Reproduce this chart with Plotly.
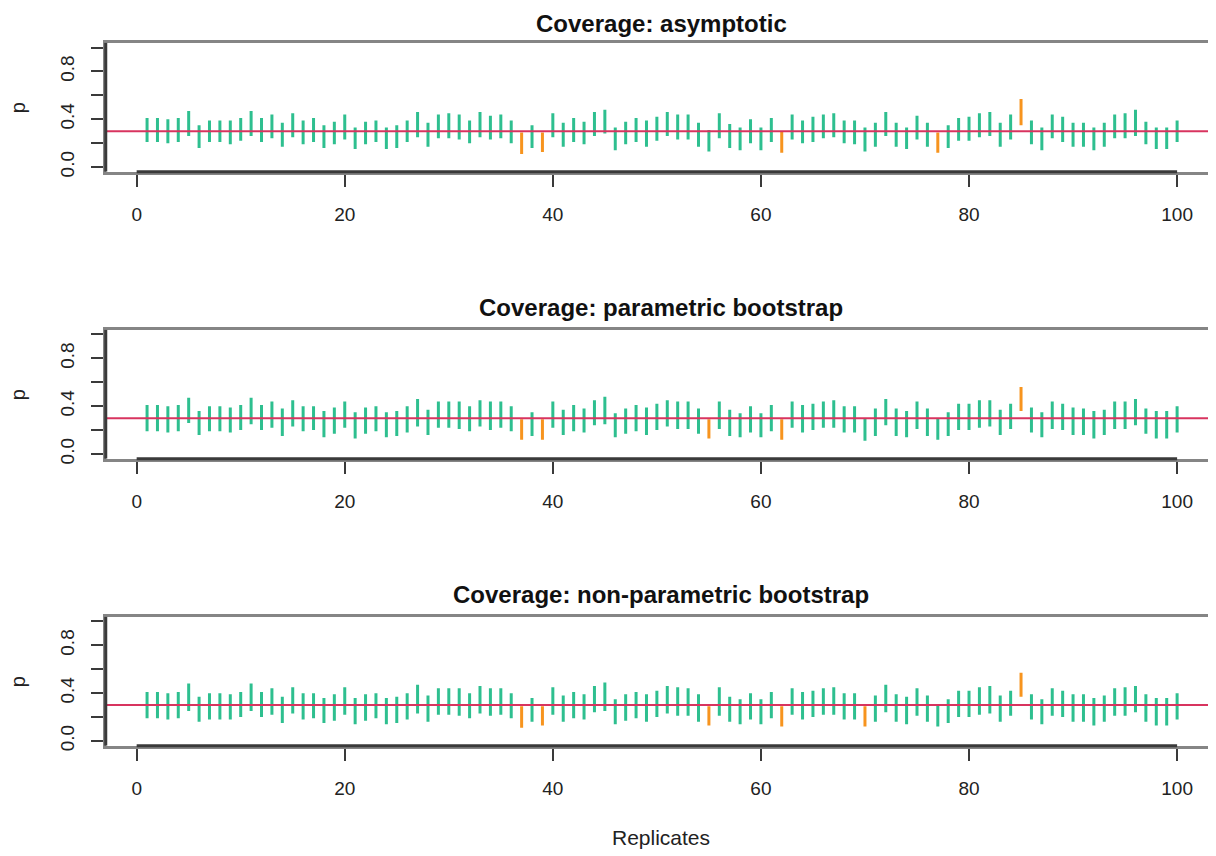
import plotly.graph_objects as go

replicates = list(range(1, 101))
true_p = 0.3

upper_asym = [0.41, 0.41, 0.40, 0.41, 0.47, 0.35, 0.39, 0.39, 0.39, 0.41,
              0.47, 0.41, 0.44, 0.37, 0.45, 0.39, 0.41, 0.35, 0.38, 0.44,
              0.33, 0.38, 0.39, 0.33, 0.35, 0.39, 0.46, 0.37, 0.44, 0.45,
              0.44, 0.39, 0.46, 0.43, 0.44, 0.39, 0.29, 0.35, 0.29, 0.45,
              0.37, 0.41, 0.38, 0.46, 0.48, 0.33, 0.38, 0.41, 0.39, 0.42,
              0.46, 0.44, 0.44, 0.37, 0.31, 0.45, 0.36, 0.33, 0.40, 0.33,
              0.41, 0.295, 0.44, 0.39, 0.42, 0.44, 0.45, 0.39, 0.39, 0.33,
              0.37, 0.46, 0.37, 0.33, 0.43, 0.37, 0.29, 0.35, 0.41, 0.42,
              0.45, 0.46, 0.37, 0.44, 0.57, 0.39, 0.33, 0.44, 0.42, 0.37,
              0.37, 0.33, 0.37, 0.44, 0.45, 0.48, 0.38, 0.33, 0.33, 0.39]
lower_asym = [0.21, 0.21, 0.20, 0.21, 0.26, 0.16, 0.21, 0.21, 0.19, 0.22,
              0.26, 0.21, 0.24, 0.17, 0.25, 0.19, 0.21, 0.16, 0.19, 0.23,
              0.15, 0.19, 0.21, 0.15, 0.16, 0.21, 0.25, 0.17, 0.24, 0.24,
              0.23, 0.20, 0.25, 0.23, 0.24, 0.20, 0.11, 0.16, 0.125, 0.25,
              0.17, 0.21, 0.19, 0.26, 0.28, 0.14, 0.19, 0.21, 0.17, 0.22,
              0.26, 0.23, 0.23, 0.17, 0.13, 0.24, 0.16, 0.14, 0.20, 0.14,
              0.21, 0.12, 0.23, 0.20, 0.21, 0.24, 0.25, 0.20, 0.19, 0.13,
              0.17, 0.26, 0.17, 0.15, 0.23, 0.17, 0.12, 0.16, 0.22, 0.22,
              0.25, 0.26, 0.17, 0.23, 0.35, 0.19, 0.14, 0.24, 0.21, 0.17,
              0.17, 0.14, 0.17, 0.24, 0.24, 0.26, 0.19, 0.15, 0.15, 0.21]

upper_param = [0.41, 0.41, 0.40, 0.41, 0.47, 0.36, 0.40, 0.40, 0.39, 0.41,
               0.47, 0.41, 0.44, 0.38, 0.45, 0.40, 0.40, 0.36, 0.39, 0.44,
               0.35, 0.39, 0.40, 0.35, 0.36, 0.40, 0.46, 0.37, 0.44, 0.44,
               0.44, 0.40, 0.45, 0.44, 0.44, 0.40, 0.29, 0.35, 0.29, 0.44,
               0.37, 0.41, 0.38, 0.45, 0.48, 0.34, 0.38, 0.41, 0.39, 0.42,
               0.45, 0.44, 0.44, 0.38, 0.29, 0.44, 0.37, 0.34, 0.40, 0.34,
               0.41, 0.29, 0.44, 0.41, 0.42, 0.44, 0.45, 0.40, 0.40, 0.30,
               0.38, 0.46, 0.38, 0.36, 0.44, 0.38, 0.30, 0.35, 0.42, 0.42,
               0.45, 0.45, 0.37, 0.42, 0.56, 0.39, 0.35, 0.44, 0.42, 0.39,
               0.38, 0.36, 0.37, 0.44, 0.44, 0.46, 0.38, 0.36, 0.36, 0.40]
lower_param = [0.19, 0.19, 0.18, 0.19, 0.26, 0.16, 0.19, 0.19, 0.18, 0.20,
               0.25, 0.20, 0.22, 0.15, 0.23, 0.19, 0.20, 0.14, 0.17, 0.22,
               0.13, 0.17, 0.19, 0.14, 0.15, 0.18, 0.23, 0.16, 0.22, 0.22,
               0.21, 0.19, 0.23, 0.20, 0.22, 0.19, 0.12, 0.15, 0.12, 0.22,
               0.16, 0.19, 0.18, 0.24, 0.25, 0.14, 0.17, 0.19, 0.16, 0.20,
               0.23, 0.21, 0.21, 0.17, 0.13, 0.21, 0.15, 0.14, 0.18, 0.14,
               0.19, 0.12, 0.22, 0.18, 0.20, 0.22, 0.22, 0.18, 0.18, 0.11,
               0.15, 0.24, 0.15, 0.14, 0.21, 0.15, 0.12, 0.15, 0.20, 0.20,
               0.22, 0.23, 0.16, 0.21, 0.36, 0.18, 0.14, 0.21, 0.20, 0.16,
               0.16, 0.13, 0.16, 0.21, 0.21, 0.24, 0.17, 0.13, 0.13, 0.18]

upper_nonparam = [0.41, 0.41, 0.40, 0.41, 0.48, 0.37, 0.40, 0.40, 0.39, 0.41,
                  0.48, 0.41, 0.44, 0.37, 0.45, 0.40, 0.40, 0.36, 0.39, 0.45,
                  0.36, 0.39, 0.40, 0.36, 0.37, 0.40, 0.47, 0.38, 0.44, 0.44,
                  0.44, 0.40, 0.46, 0.44, 0.44, 0.40, 0.29, 0.36, 0.29, 0.45,
                  0.38, 0.41, 0.39, 0.46, 0.49, 0.35, 0.39, 0.41, 0.39, 0.42,
                  0.46, 0.45, 0.44, 0.39, 0.29, 0.45, 0.37, 0.35, 0.40, 0.35,
                  0.41, 0.29, 0.44, 0.41, 0.42, 0.44, 0.45, 0.40, 0.40, 0.29,
                  0.38, 0.47, 0.39, 0.37, 0.44, 0.38, 0.30, 0.35, 0.42, 0.42,
                  0.45, 0.46, 0.38, 0.42, 0.57, 0.39, 0.35, 0.44, 0.42, 0.39,
                  0.39, 0.36, 0.38, 0.44, 0.45, 0.46, 0.39, 0.36, 0.36, 0.40]
lower_nonparam = [0.19, 0.19, 0.18, 0.19, 0.25, 0.16, 0.18, 0.18, 0.18, 0.20,
                  0.25, 0.20, 0.22, 0.15, 0.23, 0.18, 0.19, 0.15, 0.17, 0.22,
                  0.14, 0.17, 0.19, 0.14, 0.15, 0.18, 0.23, 0.16, 0.22, 0.22,
                  0.21, 0.19, 0.23, 0.21, 0.22, 0.19, 0.11, 0.16, 0.13, 0.22,
                  0.16, 0.19, 0.18, 0.24, 0.25, 0.14, 0.17, 0.19, 0.16, 0.20,
                  0.23, 0.21, 0.21, 0.16, 0.13, 0.21, 0.16, 0.14, 0.18, 0.14,
                  0.19, 0.12, 0.22, 0.18, 0.20, 0.22, 0.22, 0.18, 0.18, 0.12,
                  0.16, 0.24, 0.16, 0.14, 0.21, 0.16, 0.12, 0.15, 0.20, 0.20,
                  0.22, 0.23, 0.16, 0.21, 0.37, 0.18, 0.14, 0.21, 0.20, 0.16,
                  0.16, 0.13, 0.16, 0.21, 0.21, 0.24, 0.16, 0.13, 0.13, 0.18]

panel_titles = ["Coverage: asymptotic", "Coverage: parametric bootstrap",
                "Coverage: non-parametric bootstrap"]
panels = [(lower_asym, upper_asym), (lower_param, upper_param),
          (lower_nonparam, upper_nonparam)]

x_ticks = [0, 20, 40, 60, 80, 100]
y_tickvals = [0.0, 0.2, 0.4, 0.6, 0.8, 1.0]
y_ticktext = ["0.0", "", "0.4", "", "0.8", ""]

GREEN = "#2EBF8F"
ORANGE = "#F7941E"
RED = "#D8345F"
BOX = "#858585"
DARK = "#3a3a3a"
# the page body adds an 8px offset; figure sized to fill the remaining window
OFF = 8
W, H = 1216 - OFF, 856 - OFF
FONT = "Liberation Sans, Arial, Helvetica, sans-serif"

# panel pixel positions (screen coords) of the plotting box: (top, bottom)
panel_px = [(43, 173), (332, 462), (621, 751)]
title_px = [21, 310, 599]
x_left_px = 106
center_x_px = 663


def px_x(s):
    return (s - OFF) / W


def px_y(s):
    return 1 - (s - OFF) / H


fig = go.Figure()
shapes = []
annotations = []

for k, ((lo, up), title) in enumerate(zip(panels, panel_titles)):
    idx = "" if k == 0 else str(k + 1)
    xa, ya = "x" + idx, "y" + idx
    for color, want_cover in ((GREEN, True), (ORANGE, False)):
        xs, ys = [], []
        for r, l, u in zip(replicates, lo, up):
            covers = l <= true_p <= u
            if covers == want_cover:
                xs += [r, r, None]
                ys += [l, u, None]
        fig.add_trace(go.Scatter(x=xs, y=ys, mode="lines", xaxis=xa, yaxis=ya,
                                 line=dict(color=color, width=3), showlegend=False,
                                 hoverinfo="skip"))
    top, bot = panel_px[k]
    fig.layout["xaxis" + idx] = dict(
        domain=[px_x(x_left_px), 1], range=[-2.97, 103.45], anchor=ya,
        tickvals=x_ticks, ticks="outside", ticklen=12, tickwidth=2, tickcolor=DARK,
        showline=True, linecolor=BOX, linewidth=3, mirror=True, showgrid=False,
        zeroline=False, ticklabelstandoff=11,
        tickfont=dict(family=FONT, size=19, color="#222"))
    fig.layout["yaxis" + idx] = dict(
        domain=[px_y(bot), px_y(top)], range=[-0.04, 1.04], anchor=xa,
        tickvals=y_tickvals, ticktext=y_ticktext, tickangle=-90,
        ticks="outside", ticklen=12, tickwidth=2, tickcolor=DARK,
        showline=True, linecolor=BOX, linewidth=3, mirror=True, showgrid=False,
        zeroline=False, ticklabelstandoff=9,
        tickfont=dict(family=FONT, size=19, color="#222"))
    # true value line
    shapes.append(dict(type="line", xref=xa + " domain", yref=ya, x0=0, x1=1,
                       y0=true_p, y1=true_p, line=dict(color=RED, width=2)))
    # darker axis lines spanning the data range
    shapes.append(dict(type="line", xref=xa, yref=ya + " domain", x0=0, x1=100,
                       y0=0, y1=0, line=dict(color=DARK, width=3)))
    shapes.append(dict(type="line", xref=xa + " domain", yref=ya, x0=0, x1=0,
                       y0=-0.04, y1=1.04, line=dict(color=DARK, width=3)))
    if k == 0:
        ann_y, ann_anchor = 1.0, "top"
    else:
        ann_y, ann_anchor = px_y(title_px[k]), "middle"
    annotations.append(dict(text="<b>" + title + "</b>", xref="paper", yref="paper",
                            x=px_x(center_x_px), y=ann_y, showarrow=False,
                            xanchor="center", yanchor=ann_anchor,
                            font=dict(family=FONT, size=24, color="#111")))
    annotations.append(dict(text="p", xref="paper", yref="paper", x=px_x(18),
                            y=px_y((top + bot) / 2), showarrow=False, textangle=-90,
                            xanchor="center", yanchor="middle",
                            font=dict(family=FONT, size=20, color="#222")))

annotations.append(dict(text="Replicates", xref="paper", yref="paper",
                        x=px_x(center_x_px), y=px_y(843), showarrow=False,
                        xanchor="center", yanchor="middle",
                        font=dict(family=FONT, size=21, color="#222")))

fig.update_layout(width=W, height=H, margin=dict(l=0, r=0, t=0, b=0),
                  plot_bgcolor="white", paper_bgcolor="white",
                  shapes=shapes, annotations=annotations, showlegend=False)

fig.write_html("out.html")
